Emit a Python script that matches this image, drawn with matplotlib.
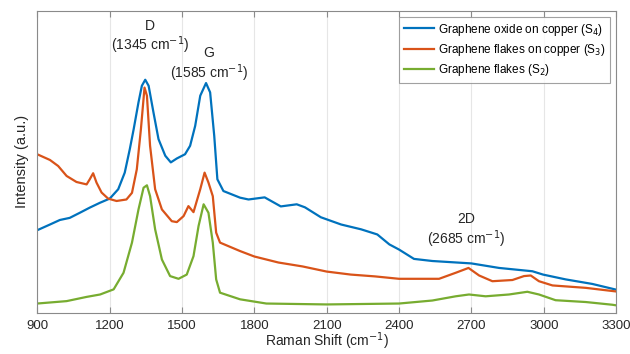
import matplotlib.pyplot as plt

plt.rcParams['font.family'] = ['Liberation Sans', 'DejaVu Sans']

# Raman shift (cm^-1) and intensity (a.u.)
shift_s4 = [900, 953, 994, 1035, 1077, 1118, 1160, 1201, 1236, 1263, 1284, 1300, 1320,
            1334, 1348, 1362, 1382, 1403, 1431, 1454, 1479, 1513, 1534, 1555, 1576,
            1600, 1617, 1634, 1647, 1672, 1741, 1776, 1843, 1910, 1976, 2010, 2076,
            2160, 2243, 2310, 2360, 2400, 2462, 2538, 2700, 2815, 2953, 2997, 3091,
            3201, 3300]
int_s4 = [27.3, 29.2, 30.7, 31.4, 33.1, 34.8, 36.4, 37.8, 40.9, 46.4, 54.2, 60.8, 69.7,
          75.2, 77.2, 75.2, 66.4, 57.5, 52.0, 49.8, 51.1, 52.5, 55.3, 61.9, 71.9,
          76.1, 73.0, 58.6, 44.2, 40.3, 38.1, 37.5, 38.2, 35.2, 35.9, 34.9, 31.6,
          29.2, 27.6, 25.9, 22.6, 20.9, 17.8, 17.1, 16.3, 14.8, 13.7, 12.6, 11.0,
          9.5, 7.6]

shift_s3 = [900, 953, 987, 1022, 1063, 1105, 1118, 1132, 1146, 1167, 1194, 1229, 1270,
            1293, 1313, 1330, 1345, 1355, 1368, 1389, 1417, 1458, 1479, 1507, 1527,
            1548, 1576, 1594, 1610, 1628, 1642, 1658, 1741, 1800, 1900, 2000, 2100,
            2200, 2300, 2400, 2566, 2635, 2688, 2732, 2787, 2870, 2918, 2946, 2980,
            3036, 3174, 3300]
int_s3 = [52.5, 50.6, 48.6, 45.3, 43.3, 42.5, 44.2, 46.2, 43.1, 39.8, 37.8, 37.0, 37.5,
          39.7, 47.5, 60.8, 74.6, 71.9, 55.3, 40.9, 34.2, 30.3, 30.0, 32.0, 35.3,
          33.3, 40.9, 46.4, 43.1, 38.6, 26.5, 23.2, 20.4, 18.6, 16.6, 15.3, 13.6,
          12.6, 12.0, 11.2, 11.2, 13.2, 14.8, 12.3, 10.4, 10.8, 12.1, 12.3, 10.4,
          9.0, 8.2, 7.0]

shift_s2 = [900, 1022, 1105, 1161, 1217, 1258, 1293, 1320, 1341, 1355, 1368, 1389, 1417,
            1451, 1486, 1520, 1548, 1569, 1590, 1610, 1628, 1642, 1658, 1741, 1850,
            2100, 2400, 2538, 2635, 2690, 2759, 2856, 2932, 2980, 3049, 3174, 3284,
            3300]
int_s2 = [3.0, 3.8, 5.2, 6.0, 7.7, 13.2, 23.2, 34.2, 41.4, 42.2, 38.6, 27.6, 17.6,
          12.1, 11.2, 12.6, 18.7, 28.7, 35.9, 33.1, 23.2, 11.0, 6.6, 4.4, 3.0,
          2.7, 3.0, 4.0, 5.4, 6.0, 5.4, 6.0, 6.9, 6.0, 4.1, 3.5, 2.6,
          2.4]

labels = ['Graphene oxide on copper (S$_4$)',
          'Graphene flakes on copper (S$_3$)',
          'Graphene flakes (S$_2$)']
colors = ['#0072BD', '#D95319', '#77AC30']

fig = plt.figure(figsize=(6.3, 3.54), dpi=100)
ax = fig.add_axes([0.059, 0.117, 0.919, 0.852])

ax.plot(shift_s4, int_s4, color=colors[0], lw=1.6, label=labels[0])
ax.plot(shift_s3, int_s3, color=colors[1], lw=1.6, label=labels[1])
ax.plot(shift_s2, int_s2, color=colors[2], lw=1.6, label=labels[2])

ax.set_xlim(900, 3300)
ax.set_ylim(0, 100)
ax.set_xticks(range(900, 3301, 300))
ax.set_yticks([])
ax.grid(True, axis='x', color='#e6e6e6', lw=0.8)
ax.set_axisbelow(True)
for s in ax.spines.values():
    s.set_color('#8a8a8a')
    s.set_linewidth(0.8)
ax.tick_params(axis='x', direction='in', top=True, length=4, color='#8a8a8a',
               labelsize=9.5, labelcolor='#262626', pad=5)

ax.set_xlabel('Raman Shift (cm$^{-1}$)', fontsize=10, color='#262626', labelpad=-1)
ax.set_ylabel('Intensity (a.u.)', fontsize=10.5, color='#262626', labelpad=6)

# peak annotations
ax.text(1368, 95, 'D', ha='center', va='center', fontsize=10, color='#262626')
ax.text(1368, 88.5, '(1345 cm$^{-1}$)', ha='center', va='center', fontsize=10, color='#262626')
ax.text(1613, 86, 'G', ha='center', va='center', fontsize=10, color='#262626')
ax.text(1613, 79.5, '(1585 cm$^{-1}$)', ha='center', va='center', fontsize=10, color='#262626')
ax.text(2680, 31, '2D', ha='center', va='center', fontsize=10, color='#262626')
ax.text(2680, 24.3, '(2685 cm$^{-1}$)', ha='center', va='center', fontsize=10, color='#262626')

leg = ax.legend(loc='upper right', fontsize=8.5, frameon=True, fancybox=False,
                borderaxespad=0.5, handlelength=2.6, handletextpad=0.3,
                labelspacing=0.35, borderpad=0.4)
leg.get_frame().set_edgecolor('#8a8a8a')
leg.get_frame().set_linewidth(0.8)

fig.savefig('out.png', dpi=100)
